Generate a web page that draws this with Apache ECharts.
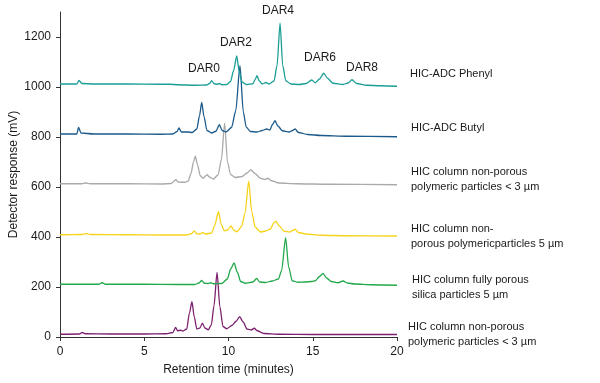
<!DOCTYPE html>
<html>
<head>
<meta charset="utf-8">
<script src="https://cdn.jsdelivr.net/npm/echarts@6/dist/echarts.min.js"></script>
<style>html,body{margin:0;padding:0;background:#fff}#c{width:600px;height:383px}</style>
</head>
<body>
<div id="c"></div>
<script>
var xTicks = [0, 5, 10, 15, 20];
var yTicks = [0, 200, 400, 600, 800, 1000, 1200];
var seriesNames = [
  "HIC-ADC Phenyl",
  "HIC-ADC Butyl",
  "HIC column non-porous\npolymeric particles < 3 µm",
  "HIC column non-\nporous polymericparticles 5 µm",
  "HIC column fully porous\nsilica particles 5 µm",
  "HIC column non-porous\npolymeric particles < 3 µm"
];
var darLabels = ["DAR0", "DAR2", "DAR4", "DAR6", "DAR8"];

var phenyl = [[0,1012],[1.0,1012],[1.13,1026],[1.3,1014],[2,1012],[4,1012],[6,1011],[6.5,1011],[7,1009],[8,1007],[8.7,1008],[8.88,1014],[9.0,1025],[9.14,1013],[9.35,1011],[9.46,1014],[9.6,1009],[9.9,1010],[10.12,1022],[10.3,1065],[10.49,1124],[10.64,1060],[10.8,1020],[11.05,1010],[11.45,1013],[11.58,1030],[11.69,1045],[11.82,1025],[12.0,1012],[12.23,1018],[12.4,1012],[12.7,1024],[12.88,1085],[13.06,1255],[13.22,1085],[13.4,1025],[13.7,1012],[14.2,1010],[14.6,1014],[14.94,1028],[15.15,1017],[15.4,1032],[15.65,1055],[15.88,1035],[16.2,1015],[16.8,1010],[17.1,1016],[17.33,1029],[17.6,1014],[18.2,1007],[19,1005],[20,1003]];
var butyl = [[0,812],[1.0,812],[1.1,838],[1.25,816],[2,812],[4,812],[6,811],[6.7,812],[6.95,822],[7.06,836],[7.2,820],[7.4,820],[7.6,820],[7.85,818],[8.12,832],[8.28,885],[8.41,938],[8.55,880],[8.72,826],[9.0,816],[9.25,823],[9.46,849],[9.62,826],[9.85,820],[10.18,838],[10.43,905],[10.68,1085],[10.88,900],[11.05,840],[11.3,822],[11.7,820],[12.0,826],[12.27,832],[12.45,828],[12.63,852],[12.76,865],[12.92,845],[13.2,825],[13.6,820],[13.8,826],[13.95,832],[14.15,818],[14.7,810],[15.5,806],[17,803],[20,801]];
var grey = [[0,613],[1.3,613],[1.5,616],[1.8,613],[4,613],[6,612],[6.6,614],[6.8,625],[6.88,630],[7.0,620],[7.2,619],[7.4,619],[7.6,623],[7.78,655],[7.92,700],[8.03,723],[8.16,690],[8.32,645],[8.5,635],[8.65,645],[8.74,649],[8.86,640],[9.1,632],[9.38,648],[9.58,710],[9.77,855],[9.94,700],[10.12,650],[10.4,638],[10.8,642],[11.1,656],[11.32,669],[11.55,655],[11.9,635],[12.15,630],[12.33,635],[12.55,625],[13,616],[14,613],[16,611],[20,609]];
var yellow = [[0,409],[1.3,410],[1.55,414],[1.8,410],[4,409],[6,408],[7.5,408],[7.8,413],[7.97,424],[8.12,413],[8.3,412],[8.47,418],[8.65,412],[9.0,416],[9.18,445],[9.4,502],[9.57,450],[9.75,425],[9.95,428],[10.15,444],[10.3,428],[10.5,421],[10.78,442],[10.98,495],[11.2,623],[11.38,500],[11.58,440],[11.9,420],[12.2,424],[12.5,432],[12.68,456],[12.82,463],[13.0,445],[13.3,423],[13.65,420],[13.8,426],[13.95,431],[14.15,418],[14.6,412],[15.5,407],[17,405],[20,404]];
var green = [[0,211],[2.3,211],[2.5,217],[2.7,211],[5,211],[7,210],[8,210],[8.25,216],[8.41,226],[8.57,215],[8.8,214],[8.95,217],[9.1,213],[9.6,214],[9.93,232],[10.13,272],[10.33,296],[10.52,260],[10.72,222],[11.0,215],[11.45,220],[11.67,234],[11.85,220],[12.2,218],[12.6,224],[12.96,232],[13.15,265],[13.39,397],[13.57,280],[13.78,225],[14.1,219],[14.5,220],[14.94,222],[15.15,225],[15.4,242],[15.61,254],[15.82,236],[16.1,222],[16.5,217],[16.8,224],[17.05,216],[17.5,212],[18.5,209],[20,207]];
var purple = [[0,11],[1.15,12],[1.32,18],[1.5,13],[3,12],[5,12],[6.3,13],[6.7,18],[6.86,38],[6.98,25],[7.15,27],[7.3,24],[7.52,32],[7.68,95],[7.83,141],[7.97,80],[8.12,32],[8.3,36],[8.45,55],[8.6,36],[8.8,29],[8.98,48],[9.14,125],[9.32,258],[9.49,120],[9.67,42],[9.9,33],[10.2,46],[10.45,63],[10.66,81],[10.87,60],[11.1,32],[11.35,28],[11.53,35],[11.7,25],[12.1,14],[13,11],[15,10],[17,10],[20,10]];

var traces = [phenyl, butyl, grey, yellow, green, purple];
var colors = ['#1a9e96', '#1b5a8a', '#aaaaaa', '#f7d31c', '#22a84b', '#7c2070'];

var font = 'Liberation Sans, Arial, sans-serif';
var chart = echarts.init(document.getElementById('c'), null, {renderer: 'canvas'});

var series = traces.map(function (d, i) {
  return {
    type: 'line', name: seriesNames[i], data: d, showSymbol: false,
    smooth: 0.25, smoothMonotone: 'x',
    lineStyle: {color: colors[i], width: 1.3}, itemStyle: {color: colors[i]},
    animation: false, z: 6 - i
  };
});

var labelPos = [[410, 73], [411, 127], [411, 171], [411, 228], [412, 279], [408, 326]];
var darPos = [[204, 69], [236, 43], [278, 11], [320, 58], [362, 68]];
var graphics = [];
seriesNames.forEach(function (n, i) {
  graphics.push({type: 'text', left: labelPos[i][0], top: labelPos[i][1] - 7,
    style: {text: n, font: '11px ' + font, fill: '#1a1a1a', lineHeight: 15}});
});
darLabels.forEach(function (n, i) {
  graphics.push({type: 'text', x: darPos[i][0], y: darPos[i][1],
    style: {text: n, font: '12px ' + font, fill: '#1a1a1a', align: 'center', verticalAlign: 'middle'}});
});

chart.setOption({
  animation: false,
  grid: {left: 60, right: 203, top: 12, bottom: 46, containLabel: false, outerBoundsMode: 'none'},
  xAxis: {
    type: 'value', min: 0, max: 20, interval: 5,
    name: 'Retention time (minutes)', nameLocation: 'middle', nameGap: 27, nameMoveOverlap: false,
    nameTextStyle: {fontFamily: font, fontSize: 12, color: '#1a1a1a'},
    axisLine: {lineStyle: {color: '#333', width: 1}},
    axisTick: {show: true, length: 4, lineStyle: {color: '#333'}},
    axisLabel: {fontFamily: font, fontSize: 12, color: '#1a1a1a', margin: 9},
    splitLine: {show: false}
  },
  yAxis: {
    type: 'value', min: 0, max: 1300,
    name: 'Detector response (mV)', nameLocation: 'middle', nameGap: 40, nameMoveOverlap: false,
    nameTextStyle: {fontFamily: font, fontSize: 12, color: '#1a1a1a'},
    axisLine: {show: true, lineStyle: {color: '#333', width: 1}},
    axisTick: {show: true, length: 4, customValues: yTicks, lineStyle: {color: '#333'}},
    axisLabel: {fontFamily: font, fontSize: 12, color: '#1a1a1a', margin: 9, customValues: yTicks,
      formatter: function (v) { return String(v); }},
    splitLine: {show: false}
  },
  series: series,
  graphic: graphics
});
</script>
</body>
</html>
